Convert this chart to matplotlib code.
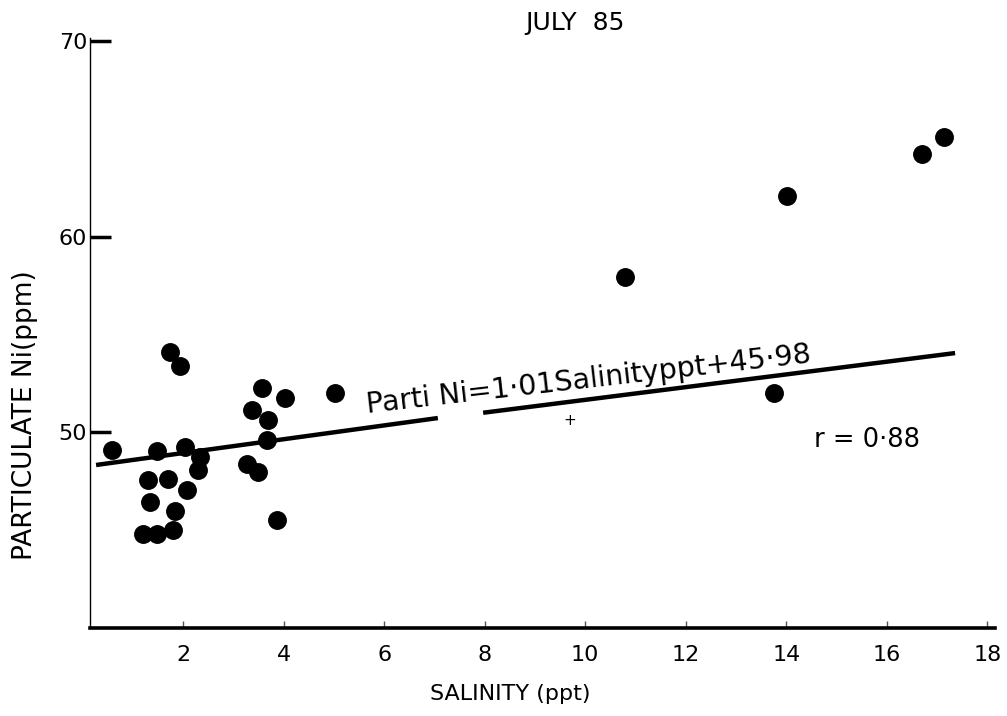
import matplotlib
matplotlib.use("Agg")
import matplotlib.pyplot as plt

# Particulate nickel vs salinity, July 1985 survey
salinity = [0.59, 1.48, 2.04, 2.34, 2.30, 1.31, 1.71, 2.07, 1.34, 1.84,
            1.81, 1.21, 1.48, 1.74, 1.94, 3.27, 3.50, 3.86, 3.67, 3.37,
            3.70, 3.57, 4.03, 5.02, 10.80, 13.75, 14.01, 16.70, 17.13]
ni_ppm = [49.1, 49.07, 49.25, 48.72, 48.1, 47.54, 47.63, 47.03, 46.42, 46.0,
          45.0, 44.8, 44.8, 54.12, 53.4, 48.4, 47.96, 45.5, 49.62, 51.13,
          50.62, 52.24, 51.73, 52.0, 57.96, 51.99, 62.1, 64.2, 65.11]

# Fitted line as drawn, split around the equation text
fit_x1 = [0.27, 7.07]
fit_y1 = [48.33, 50.73]
fit_x2 = [7.97, 17.36]
fit_y2 = [51.0, 54.05]

x_ticks = [2, 4, 6, 8, 10, 12, 14, 16, 18]
x_tick_labels = ["2", "4", "6", "8", "10", "12", "14", "16", "18"]
y_ticks = [50, 60, 70]
y_tick_labels = ["50", "60", "70"]

fig = plt.figure(figsize=(10.07, 7.16), dpi=100)
ax = fig.add_axes([0.0894, 0.1229, 0.899, 0.824])

ax.scatter(salinity, ni_ppm, s=185, color="black", zorder=3, linewidths=0)
ax.plot(fit_x1, fit_y1, color="black", lw=3.2, solid_capstyle="butt")
ax.plot(fit_x2, fit_y2, color="black", lw=3.2, solid_capstyle="butt")

ax.set_xlim(0.15, 18.16)
ax.set_ylim(40, 70.15)

for side in ("top", "right"):
    ax.spines[side].set_visible(False)
ax.spines["bottom"].set_linewidth(2.6)
ax.spines["left"].set_linewidth(1.0)

ax.set_xticks(x_ticks)
ax.set_xticklabels(x_tick_labels)
ax.set_yticks(y_ticks)
ax.set_yticklabels(y_tick_labels)
ax.tick_params(axis="x", direction="in", length=5, width=1, color="#555555",
               labelsize=16, pad=12)
ax.tick_params(axis="y", direction="in", length=15, width=2.5,
               labelsize=16, pad=2)

ax.set_xlabel("SALINITY (ppt)", fontsize=16)
ax.xaxis.set_label_coords(0.464, -0.095)
ax.set_ylabel("PARTICULATE Ni(ppm)", fontsize=19)
ax.yaxis.set_label_coords(-0.058, 0.36)
ax.set_title("JULY  85", fontsize=18, pad=6, x=0.536)

ax.text(5.66, 51.0, "Parti Ni=1·01Salinityppt+45·98", fontsize=20.5,
        rotation=6.5, rotation_mode="anchor", ha="left", va="baseline")
ax.text(14.55, 49.6, "r = 0·88", fontsize=18.5, ha="left", va="center")
ax.text(9.7, 50.6, "+", fontsize=11, ha="center", va="center")

fig.savefig("out.png", dpi=100)
